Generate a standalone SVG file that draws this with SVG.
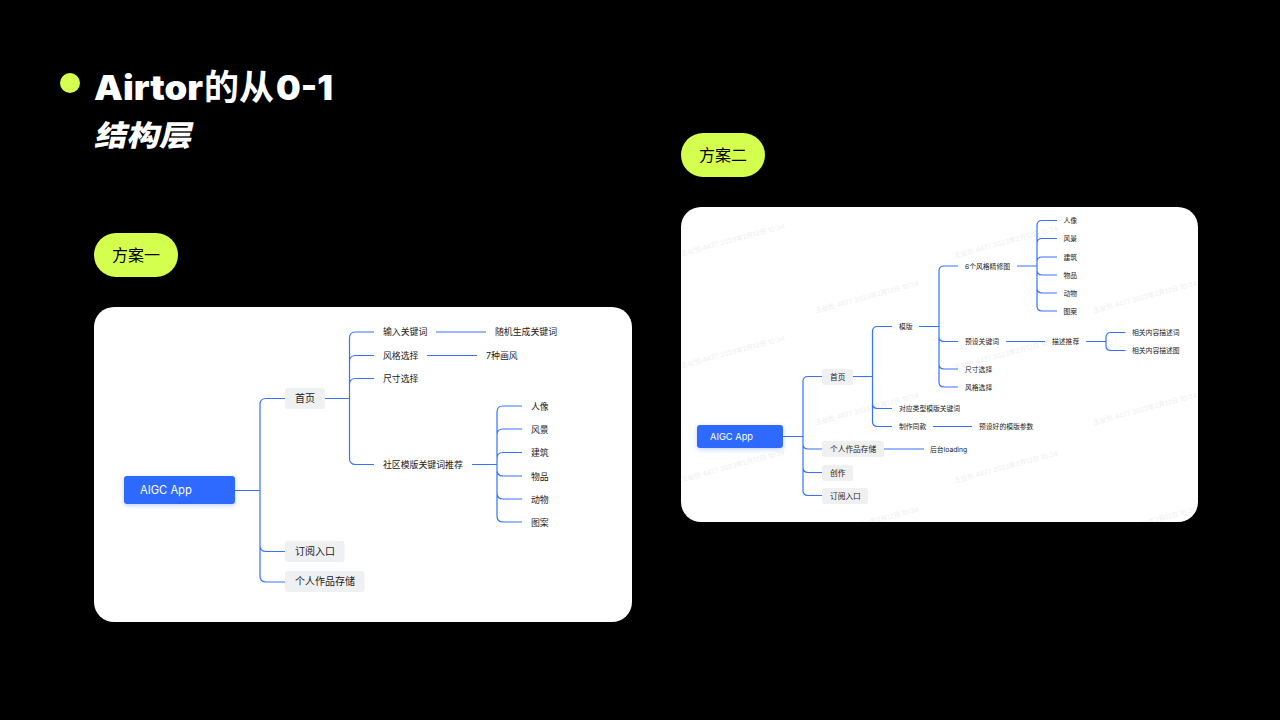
<svg xmlns="http://www.w3.org/2000/svg" width="1280" height="720" viewBox="0 0 1280 720">
<defs>
<clipPath id="card2clip"><rect x="681" y="207" width="517" height="315" rx="20"/></clipPath>
<filter id="soft" x="-20%" y="-30%" width="140%" height="170%"><feDropShadow dx="0" dy="1.5" stdDeviation="2" flood-color="#2f6bff" flood-opacity="0.3"/></filter>
</defs>
<style>
text{font-family:"Inter","Noto Sans CJK SC",sans-serif}
.cjk{font-family:"Noto Sans CJK SC",sans-serif}
.pill{fill:#d5ff4f}
.pilltext{font-size:16px;fill:#000;font-family:"Noto Sans CJK SC",sans-serif}
.card{fill:#fff}
.root{fill:#2f6bff}
.rt{fill:#fff}
.tag{fill:#eff0f2}
.a{font-size:10px;fill:#1a1a1a}
.b{font-size:8.9px;fill:#1a1a1a}
.c{font-size:7.7px;fill:#1a1a1a}
.d{font-size:6.8px;fill:#1a1a1a}
.wm{font-size:6.7px;fill:#eeeeee}
.cn{fill:none;stroke:#3472ff;stroke-width:1.2}
</style>
<rect width="1280" height="720" fill="#000"/>

<g id="title">
<circle class="pill" cx="70" cy="83" r="10"/>
<text x="94" y="100" font-size="34" font-weight="900" fill="#fff"><tspan x="94" textLength="109" lengthAdjust="spacingAndGlyphs">Airtor</tspan><tspan class="cjk" x="204" font-weight="700" font-size="35">的从</tspan><tspan x="276" textLength="57" lengthAdjust="spacingAndGlyphs">0-1</tspan></text>
<text transform="translate(94 146) skewX(-12) scale(1.12 1)" font-size="29" font-weight="900" fill="#fff" class="cjk">结构层</text>
</g>

<g id="plan1-label"><rect class="pill" x="94" y="233" width="84" height="44" rx="22"/><text class="pilltext" x="112" y="261">方案一</text></g>
<g id="plan2-label"><rect class="pill" x="681" y="133" width="84" height="44" rx="22"/><text class="pilltext" x="699" y="161">方案二</text></g>

<rect id="card1" class="card" x="94" y="307" width="538" height="315" rx="20"/>
<rect id="card2" class="card" x="681" y="207" width="517" height="315" rx="20"/>

<g id="watermarks" clip-path="url(#card2clip)">
<text class="wm" transform="translate(816 198) rotate(-15)">王祉怡 4477 2023年2月12日 10:34</text>
<text class="wm" transform="translate(1094 198) rotate(-15)">王祉怡 4477 2023年2月12日 10:34</text>
<text class="wm" transform="translate(682 256) rotate(-15)">王祉怡 4477 2023年2月12日 10:34</text>
<text class="wm" transform="translate(955 258) rotate(-15)">王祉怡 4477 2023年2月12日 10:34</text>
<text class="wm" transform="translate(816 313) rotate(-15)">王祉怡 4477 2023年2月12日 10:34</text>
<text class="wm" transform="translate(1094 313) rotate(-15)">王祉怡 4477 2023年2月12日 10:34</text>
<text class="wm" transform="translate(682 368) rotate(-15)">王祉怡 4477 2023年2月12日 10:34</text>
<text class="wm" transform="translate(955 370) rotate(-15)">王祉怡 4477 2023年2月12日 10:34</text>
<text class="wm" transform="translate(816 425) rotate(-15)">王祉怡 4477 2023年2月12日 10:34</text>
<text class="wm" transform="translate(1094 425) rotate(-15)">王祉怡 4477 2023年2月12日 10:34</text>
<text class="wm" transform="translate(682 482) rotate(-15)">王祉怡 4477 2023年2月12日 10:34</text>
<text class="wm" transform="translate(955 483) rotate(-15)">王祉怡 4477 2023年2月12日 10:34</text>
<text class="wm" transform="translate(816 539) rotate(-15)">王祉怡 4477 2023年2月12日 10:34</text>
<text class="wm" transform="translate(1094 539) rotate(-15)">王祉怡 4477 2023年2月12日 10:34</text>
</g>

<g id="connectors">
<path class="cn" d="M235 490.500H260M285 398.500H266Q260 398.500 260 404.500V576Q260 582 266 582H285M260 545.500Q260 551.500 266 551.500H285"/>
<path class="cn" d="M325 398.500H349.500M374 332H355.500Q349.500 332 349.500 338V458.500Q349.500 464.500 355.500 464.500H374M349.500 361.500Q349.500 355.500 355.500 355.500H374M349.500 384.500Q349.500 378.500 355.500 378.500H374"/>
<path class="cn" d="M436 332H486M427 355.500H477M472 464.500H497M522 406H503Q497 406 497 412V516Q497 522 503 522H522M497 435Q497 429 503 429H522M497 458.500Q497 452.500 503 452.500H522M497 470Q497 476 503 476H522M497 493Q497 499 503 499H522"/>
<path class="cn" d="M783 436.500H803M822 376.500H808Q803 376.500 803 381.500V490.500Q803 495.500 808 495.500H822M803 444Q803 449 808 449H822M803 467.500Q803 472.500 808 472.500H822"/>
<path class="cn" d="M853 376.500H872.500M892 326.500H877.500Q872.500 326.500 872.500 331.500V421.500Q872.500 426.500 877.500 426.500H892M872.500 403.500Q872.500 408.500 877.500 408.500H892"/>
<path class="cn" d="M919 326.500H939M958 266H944Q939 266 939 271V382Q939 387 944 387H958M939 336.500Q939 341.500 944 341.500H958M939 364Q939 369 944 369H958"/>
<path class="cn" d="M1017 266H1037M1057 220.500H1042Q1037 220.500 1037 225.500V306Q1037 311 1042 311H1057M1037 243.500Q1037 238.500 1042 238.500H1057M1037 262Q1037 257 1042 257H1057M1037 270Q1037 275 1042 275H1057M1037 288Q1037 293 1042 293H1057"/>
<path class="cn" d="M1006 341.500H1045M1086 341.500H1106M1125.500 332.500H1111Q1106 332.500 1106 337.500V345.500Q1106 350.500 1111 350.500H1125.500"/>
<path class="cn" d="M933 426.500H972M884 449H924"/>
</g>

<g id="p1-root"><rect class="root" x="124" y="476" width="111" height="28" rx="3" filter="url(#soft)"/><text class="rt" x="140" y="494" font-size="11.200">AIGC App</text></g>
<g id="p1-home"><rect class="tag" x="285" y="388" width="40" height="21" rx="3"/><text class="a" x="295" y="402">首页</text></g>
<g id="p1-sub"><rect class="tag" x="285" y="541" width="59.500" height="21" rx="3"/><text class="a" x="295" y="555">订阅入口</text></g>
<g id="p1-store"><rect class="tag" x="285" y="571" width="79.500" height="21" rx="3"/><text class="a" x="295" y="585">个人作品存储</text></g>
<g id="p1-n1"><text class="b" x="383" y="335">输入关键词</text></g>
<g id="p1-n1a"><text class="b" x="495" y="335">随机生成关键词</text></g>
<g id="p1-n2"><text class="b" x="383" y="358.500">风格选择</text></g>
<g id="p1-n2a"><text class="b" x="486" y="358.500">7种画风</text></g>
<g id="p1-n3"><text class="b" x="383" y="381.500">尺寸选择</text></g>
<g id="p1-n4"><text class="b" x="383" y="467.500">社区模版关键词推荐</text></g>
<g id="p1-k1"><text class="b" x="531" y="409.500">人像</text></g>
<g id="p1-k2"><text class="b" x="531" y="432.500">风景</text></g>
<g id="p1-k3"><text class="b" x="531" y="456">建筑</text></g>
<g id="p1-k4"><text class="b" x="531" y="479.500">物品</text></g>
<g id="p1-k5"><text class="b" x="531" y="502.500">动物</text></g>
<g id="p1-k6"><text class="b" x="531" y="525.500">图案</text></g>

<g id="p2-root"><rect class="root" x="697" y="425" width="86" height="23" rx="3" filter="url(#soft)"/><text class="rt" x="710" y="440" font-size="9.300">AIGC App</text></g>
<g id="p2-home"><rect class="tag" x="822" y="369" width="31" height="16" rx="2.500"/><text class="c" x="830" y="379.500">首页</text></g>
<g id="p2-store"><rect class="tag" x="822" y="441" width="62" height="16" rx="2.500"/><text class="c" x="830" y="452">个人作品存储</text></g>
<g id="p2-create"><rect class="tag" x="822" y="465" width="31" height="16" rx="2.500"/><text class="c" x="830" y="475.500">创作</text></g>
<g id="p2-sub"><rect class="tag" x="822" y="488" width="46" height="16" rx="2.500"/><text class="c" x="830" y="498.500">订阅入口</text></g>
<g id="p2-tpl"><text class="d" x="899" y="329">模版</text></g>
<g id="p2-kw"><text class="d" x="899" y="411">对应类型模版关键词</text></g>
<g id="p2-same"><text class="d" x="899" y="429">制作同款</text></g>
<g id="p2-param"><text class="d" x="979" y="429">预设好的模版参数</text></g>
<g id="p2-loading"><text class="d" x="930" y="451.500">后台loading</text></g>
<g id="p2-style6"><text class="d" x="965" y="268.500">6个风格精修图</text></g>
<g id="p2-preset"><text class="d" x="965" y="344">预设关键词</text></g>
<g id="p2-size"><text class="d" x="965" y="371.500">尺寸选择</text></g>
<g id="p2-style"><text class="d" x="965" y="389.500">风格选择</text></g>
<g id="p2-k1"><text class="d" x="1063.500" y="223">人像</text></g>
<g id="p2-k2"><text class="d" x="1063.500" y="241">风景</text></g>
<g id="p2-k3"><text class="d" x="1063.500" y="259.500">建筑</text></g>
<g id="p2-k4"><text class="d" x="1063.500" y="277.500">物品</text></g>
<g id="p2-k5"><text class="d" x="1063.500" y="295.500">动物</text></g>
<g id="p2-k6"><text class="d" x="1063.500" y="313.500">图案</text></g>
<g id="p2-rec"><text class="d" x="1052" y="344">描述推荐</text></g>
<g id="p2-r1"><text class="d" x="1132" y="335">相关内容描述词</text></g>
<g id="p2-r2"><text class="d" x="1132" y="353">相关内容描述图</text></g>
</svg>
